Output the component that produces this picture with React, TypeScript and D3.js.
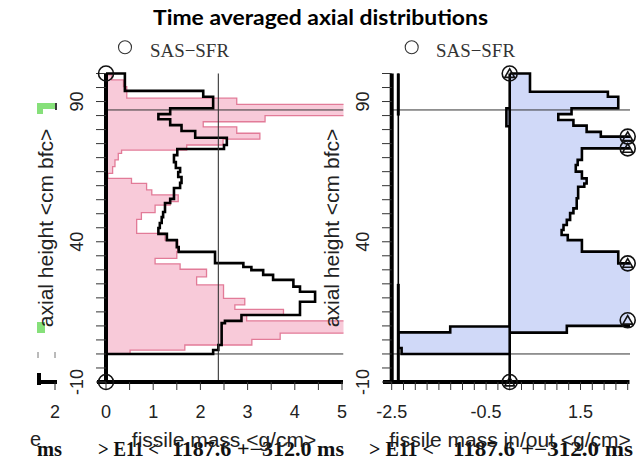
import React from 'react';
import * as d3 from 'd3';

// ---------- data ----------
const TITLE = 'Time averaged axial distributions';
const LEGEND_LABEL = 'SAS\u2212SFR';
const X_TITLE_LEFT = 'fissile mass <g/cm>';
const X_TITLE_RIGHT = 'fissile mass in/out <g/cm>';
const Y_TITLE = 'axial height <cm bfc>';
const Y_TICK_LABELS = [90, 40, -10];
const LEFT_X_LABELS = [0, 1, 2, 3, 4, 5];
const RIGHT_X_LABELS = [-2.5, -0.5, 1.5];
const FOOTER_PARTS = ['ms', '> E11 <', '1187.6 +\u2212312.0 ms', '> E11 <', '1187.6 +\u2212312.0 ms'];

// pink: initial fissile mass distribution (heights top -> bottom, cm)
const initialEdges = [99.5, 97.7, 95.3, 91.2, 89.0, 85.0, 82.8, 81.0, 78.7, 76.6, 74.5, 72.7, 71.5, 69.2, 66.8, 64.4, 62.6, 60.8, 58.5, 56.7, 54.3, 53.1, 50.4, 48.0, 43.0, 40.6, 36.5, 34.1, 32.1, 30.2, 27.5, 24.6, 19.8, 17.5, 15.9, 13.9, 11.8, 7.4, 5.2, 3.2, 1.4, 0];
const initialValues = [0.12, 0.37, 0.44, 2.77, 5.6, 3.37, 2.06, 2.77, 3.26, 2.48, 1.71, 0.33, 0.26, 0.19, 0.14, 0.04, 0.54, 0.86, 0.97, 1.53, 1.36, 1.04, 0.75, 0.65, 1.25, 1.52, 1.50, 1.04, 1.57, 2.13, 1.92, 2.49, 2.94, 2.73, 3.76, 2.98, 5.6, 3.69, 3.09, 1.67, 0.51];

// black: time averaged fissile mass
const averageEdges = [100, 93.8, 91.7, 87.6, 85.5, 83.7, 81.6, 79.5, 77.1, 74.5, 73.1, 70.9, 68.4, 66.3, 64.9, 63.1, 61.0, 59.2, 55.3, 53.8, 50.6, 48.8, 46.7, 44.9, 42.8, 40.6, 38.1, 36.4, 32.4, 31.0, 29.9, 28.2, 26.4, 24.0, 22.2, 18.6, 13.9, 11.8, 11.0, 3.2, 1.4, 0];
const averageValues = [0.40, 2.06, 2.27, 1.36, 1.11, 1.36, 1.60, 1.89, 2.56, 2.50, 1.51, 1.44, 1.48, 1.57, 1.53, 1.60, 1.57, 1.44, 1.36, 1.25, 1.21, 1.18, 1.14, 1.11, 1.29, 1.50, 1.54, 2.31, 2.91, 3.08, 3.33, 3.54, 3.97, 4.11, 4.43, 4.11, 2.87, 2.52, 2.45, 2.38, 2.27];

// right panel: in (positive) and out (negative)
const inEdges = [100, 93.5, 91.7, 87.6, 85.5, 83.4, 81.4, 79.2, 77.5, 73.3, 69.2, 67.4, 65.0, 62.6, 60.8, 59.6, 55.5, 51.9, 50.2, 47.8, 46.0, 44.2, 42.4, 40.6, 36.5, 32.3, 10.0, 7.6];
const inValues = [0.43, 2.08, 2.30, 1.31, 1.03, 1.35, 1.63, 1.93, 2.60, 1.53, 1.44, 1.40, 1.53, 1.63, 1.58, 1.45, 1.42, 1.35, 1.28, 1.21, 1.14, 1.10, 1.23, 1.53, 2.30, 3.90, 1.21];
const outEdges = [87.6, 81.2, 9.8, 7.7, 2.1, 0];
const outValues = [-0.07, 0, -1.26, -2.36, -2.29];

const leftRefX = 2.38;
const horizontalRefs = [87, 0];
const rightRefX = -2.36;
const rightRefThick = [[100, 85], [25, -10]];
const leftMarkers = [[0, 100], [0, -10]];
const rightMarkers = [[0, 100], [2.5, 77.5], [2.5, 73.3], [2.5, 32.3], [2.5, 12.0], [0, -10]];

// ---------- layout ----------
const W = 641, H = 460;
const Y_TOP = 73.5, Y_BOT = 382;
const LX0 = 106, LX1 = 342;
const RX0 = 391.7, RX1 = 627.7;
const SANS = 'Liberation Sans, Arial, sans-serif';
const SERIF = 'Liberation Serif, Times New Roman, serif';

const y = d3.scaleLinear().domain([-10, 100]).range([Y_BOT, Y_TOP]);
const xl = d3.scaleLinear().domain([0, 5]).range([LX0, LX1]);
const xr = d3.scaleLinear().domain([-2.5, 2.5]).range([RX0, RX1]);

type P = [number, number];
function stepPoints(edges: number[], values: number[]): P[] {
  const pts: P[] = [[0, edges[0]]];
  values.forEach((v, i) => {
    pts.push([v, edges[i]]);
    pts.push([v, edges[i + 1]]);
  });
  pts.push([0, edges[edges.length - 1]]);
  return pts;
}

function linePath(xs: d3.ScaleLinear<number, number>, pts: P[]) {
  return d3.line<P>().x(d => xs(d[0])).y(d => y(d[1]))(pts) || '';
}

const yTicks = d3.range(-10, 100.01, 5);
const lTicks = d3.range(0, 5.001, 0.5);
const rTicks = d3.range(-2.5, 2.5001, 0.25);

function Marker({ cx, cy, tri }: { cx: number; cy: number; tri: boolean }) {
  const t = d3.symbol().type(d3.symbolTriangle).size(42)() || '';
  return (
    <g transform={`translate(${cx},${cy})`}>
      <circle r={7.5} fill="none" stroke="#111" strokeWidth={1.6} />
      {tri && <path d={t} fill="none" stroke="#111" strokeWidth={1.6} transform="translate(0,1)" />}
    </g>
  );
}

export default function App() {
  const pinkPts = stepPoints(initialEdges, initialValues);
  const blackPts = stepPoints(averageEdges, averageValues);
  const inPts = stepPoints(inEdges, inValues);
  const outPts = stepPoints(outEdges, outValues);

  const footerX = [[37, 62], [98, 159], [172, 344], [369, 434], [453, 633]];

  return (
    <svg width={W} height={H} style={{ position: 'absolute', left: 0, top: 0, background: '#fff' }}
      fontFamily={SANS}>
      <defs>
        <clipPath id="clipL"><rect x={LX0} y={Y_TOP - 2} width={343.5 - LX0} height={Y_BOT - Y_TOP + 2} /></clipPath>
        <clipPath id="clipR"><rect x={RX0} y={Y_TOP - 2} width={630 - RX0} height={Y_BOT - Y_TOP + 2} /></clipPath>
      </defs>
      <rect x={0} y={0} width={W} height={H} fill="#fff" />

      {/* title */}
      <text x={320.5} y={25} textAnchor="middle" fontFamily="Lato, Open Sans, sans-serif" fontWeight="bold"
        fontSize={21} textLength={335} lengthAdjust="spacingAndGlyphs" fill="#000">{TITLE}</text>

      {/* fragments of the neighbouring panel on the far left */}
      <g>
        <rect x={37} y={103} width={20} height={6} fill="#86e07a" />
        <rect x={37} y={109} width={6} height={5} fill="#86e07a" />
        <line x1={56} y1={103} x2={56} y2={110} stroke="#3a3a3a" strokeWidth={2} />
        <rect x={37} y={322} width={8} height={11} fill="#86e07a" />
        <line x1={38} y1={352} x2={38} y2={358} stroke="#777" strokeWidth={1} />
        <line x1={55} y1={352} x2={55} y2={358} stroke="#777" strokeWidth={1} />
        <line x1={37} y1={382} x2={57} y2={382} stroke="#000" strokeWidth={4} />
        <rect x={37} y={373} width={4} height={12} fill="#000" />
        <line x1={55} y1={382} x2={55} y2={390} stroke="#222" strokeWidth={1} />
        <text x={55} y={418} textAnchor="middle" fontSize={18} fill="#222">2</text>
        <text x={30} y={446} fontSize={20} fill="#222">e</text>
      </g>

      {/* ---------------- left panel ---------------- */}
      <g clipPath="url(#clipL)">
        <path d={linePath(xl, pinkPts) + 'Z'} fill="#f8cad9" stroke="none" />
        <path d={linePath(xl, pinkPts)} fill="none" stroke="#e27b98" strokeWidth={1.3} />
        {horizontalRefs.map((h, i) => (
          <line key={i} x1={LX0} x2={343.5} y1={y(h)} y2={y(h)} stroke="#333" strokeWidth={1} />
        ))}
        <path d={linePath(xl, blackPts)} fill="none" stroke="#000" strokeWidth={2.6} strokeLinejoin="miter" />
      </g>
      <line x1={xl(leftRefX)} x2={xl(leftRefX)} y1={Y_TOP} y2={Y_BOT} stroke="#333" strokeWidth={1.1} />
      {/* axes */}
      <line x1={LX0} x2={LX0} y1={Y_TOP} y2={Y_BOT} stroke="#000" strokeWidth={4} />
      <line x1={97} x2={343} y1={Y_BOT} y2={Y_BOT} stroke="#000" strokeWidth={4} />
      {yTicks.map(t => (
        <line key={'ly' + t} x1={96} x2={LX0} y1={y(t)} y2={y(t)} stroke="#333" strokeWidth={1} />
      ))}
      {lTicks.map(t => (
        <line key={'lx' + t} x1={xl(t)} x2={xl(t)} y1={Y_BOT} y2={Y_BOT + 8} stroke="#333" strokeWidth={1} />
      ))}
      {LEFT_X_LABELS.map(t => (
        <text key={'lxl' + t} x={xl(t)} y={418} textAnchor="middle" fontSize={18} fill="#222">{t}</text>
      ))}
      {Y_TICK_LABELS.map(t => (
        <text key={'lyl' + t} transform={`translate(83,${y(t)}) rotate(-90)`} textAnchor="middle" fontSize={18} fill="#222">{t}</text>
      ))}
      {leftMarkers.map((m, i) => <Marker key={i} cx={xl(m[0])} cy={y(m[1])} tri={false} />)}
      <circle cx={125} cy={47.3} r={6.5} fill="none" stroke="#333" strokeWidth={1.1} />
      <text x={150} y={57} fontFamily={SERIF} fontSize={19} fill="#333" textLength={79} lengthAdjust="spacingAndGlyphs">{LEGEND_LABEL}</text>
      <text transform={`translate(53,228) rotate(-90)`} textAnchor="middle" fontSize={21} fill="#222">{Y_TITLE}</text>

      {/* ---------------- right panel ---------------- */}
      <g clipPath="url(#clipR)">
        <path d={linePath(xr, inPts) + 'Z'} fill="#d0d9f8" stroke="none" />
        <path d={linePath(xr, outPts) + 'Z'} fill="#d0d9f8" stroke="none" />
        {horizontalRefs.map((h, i) => (
          <line key={i} x1={RX0} x2={630} y1={y(h)} y2={y(h)} stroke="#333" strokeWidth={1} />
        ))}
        <path d={linePath(xr, inPts)} fill="none" stroke="#000" strokeWidth={2.6} />
        <path d={linePath(xr, outPts)} fill="none" stroke="#000" strokeWidth={2.6} />
      </g>
      <line x1={xr(0)} x2={xr(0)} y1={Y_TOP} y2={Y_BOT} stroke="#000" strokeWidth={2.6} />
      <line x1={xr(rightRefX)} x2={xr(rightRefX)} y1={Y_TOP} y2={Y_BOT} stroke="#000" strokeWidth={1.6} />
      {rightRefThick.map((s, i) => (
        <line key={i} x1={xr(rightRefX)} x2={xr(rightRefX)} y1={y(s[0])} y2={y(s[1])} stroke="#000" strokeWidth={3} />
      ))}
      <line x1={RX0} x2={RX0} y1={Y_TOP} y2={Y_BOT} stroke="#000" strokeWidth={4} />
      <line x1={383} x2={629.5} y1={Y_BOT} y2={Y_BOT} stroke="#000" strokeWidth={4} />
      {yTicks.map(t => (
        <line key={'ry' + t} x1={382} x2={RX0} y1={y(t)} y2={y(t)} stroke="#333" strokeWidth={1} />
      ))}
      {rTicks.map(t => (
        <line key={'rx' + t} x1={xr(t)} x2={xr(t)} y1={Y_BOT} y2={Y_BOT + 8} stroke="#333" strokeWidth={1} />
      ))}
      {RIGHT_X_LABELS.map(t => (
        <text key={'rxl' + t} x={xr(t)} y={418} textAnchor="middle" fontSize={18} fill="#222">{t}</text>
      ))}
      {Y_TICK_LABELS.map(t => (
        <text key={'ryl' + t} transform={`translate(369,${y(t)}) rotate(-90)`} textAnchor="middle" fontSize={18} fill="#222">{t}</text>
      ))}
      {rightMarkers.map((m, i) => <Marker key={i} cx={xr(m[0])} cy={y(m[1])} tri={true} />)}
      <circle cx={411.7} cy={47.3} r={6.5} fill="none" stroke="#333" strokeWidth={1.1} />
      <text x={436} y={57} fontFamily={SERIF} fontSize={19} fill="#333" textLength={79} lengthAdjust="spacingAndGlyphs">{LEGEND_LABEL}</text>
      <text transform={`translate(339,228) rotate(-90)`} textAnchor="middle" fontSize={21} fill="#222">{Y_TITLE}</text>

      {/* footer */}
      {FOOTER_PARTS.map((s, i) => (
        <text key={'f' + i} x={footerX[i][0]} y={456} fontFamily={SERIF} fontWeight="bold" fontSize={20}
          fill="#111" textLength={footerX[i][1] - footerX[i][0]} lengthAdjust="spacingAndGlyphs">{s}</text>
      ))}
      <text x={224} y={447} textAnchor="middle" fontSize={21} fill="#222">{X_TITLE_LEFT}</text>
      <text x={510} y={447} textAnchor="middle" fontSize={21} fill="#222">{X_TITLE_RIGHT}</text>
    </svg>
  );
}
